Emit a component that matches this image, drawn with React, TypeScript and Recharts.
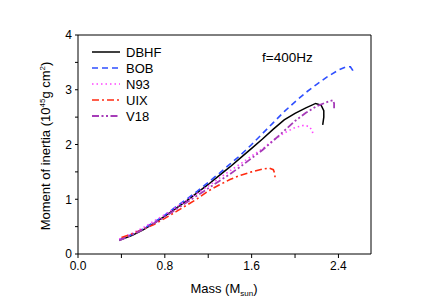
import { LineChart, Line, XAxis, YAxis, ReferenceLine } from "recharts";

// masses (M_sun) and moments of inertia (10^45 g cm^2)
const dbhfMass = [0.38, 0.5, 0.6, 0.7, 0.8, 0.9, 1.0, 1.1, 1.2, 1.3, 1.4, 1.5, 1.6, 1.7, 1.8, 1.9, 2.0, 2.1, 2.19, 2.24, 2.265, 2.265, 2.255];
const dbhfI = [0.25, 0.34, 0.44, 0.56, 0.69, 0.83, 0.97, 1.12, 1.27, 1.43, 1.59, 1.76, 1.93, 2.1, 2.28, 2.45, 2.57, 2.67, 2.75, 2.72, 2.62, 2.5, 2.36];

const bobMass = [0.38, 0.5, 0.6, 0.7, 0.8, 0.9, 1.0, 1.1, 1.2, 1.3, 1.4, 1.5, 1.6, 1.7, 1.8, 1.9, 2.0, 2.1, 2.2, 2.3, 2.4, 2.47, 2.51, 2.53, 2.535];
const bobI = [0.26, 0.36, 0.46, 0.58, 0.71, 0.86, 1.0, 1.15, 1.31, 1.47, 1.64, 1.81, 2.0, 2.2, 2.4, 2.6, 2.78, 2.95, 3.1, 3.24, 3.36, 3.42, 3.42, 3.36, 3.28];

const n93Mass = [0.38, 0.5, 0.6, 0.7, 0.8, 0.9, 1.0, 1.1, 1.2, 1.3, 1.4, 1.5, 1.6, 1.7, 1.8, 1.9, 2.0, 2.08, 2.13, 2.16, 2.165];
const n93I = [0.27, 0.38, 0.48, 0.6, 0.72, 0.85, 0.98, 1.11, 1.24, 1.38, 1.52, 1.65, 1.79, 1.92, 2.08, 2.21, 2.31, 2.35, 2.33, 2.25, 2.17];

const uixMass = [0.4, 0.5, 0.6, 0.7, 0.8, 0.9, 1.0, 1.1, 1.2, 1.3, 1.4, 1.5, 1.6, 1.7, 1.76, 1.8, 1.815, 1.815];
const uixI = [0.3, 0.37, 0.45, 0.54, 0.65, 0.77, 0.89, 1.01, 1.15, 1.26, 1.36, 1.44, 1.5, 1.55, 1.57, 1.54, 1.46, 1.4];

const v18Mass = [0.38, 0.5, 0.6, 0.7, 0.8, 0.9, 1.0, 1.1, 1.2, 1.3, 1.4, 1.5, 1.6, 1.7, 1.8, 1.9, 2.0, 2.1, 2.2, 2.3, 2.35, 2.36, 2.36];
const v18I = [0.25, 0.35, 0.45, 0.56, 0.68, 0.81, 0.94, 1.07, 1.2, 1.33, 1.46, 1.6, 1.75, 1.9, 2.07, 2.25, 2.43, 2.58, 2.7, 2.78, 2.81, 2.75, 2.66];

const xTicks = [0, 0.4, 0.8, 1.2, 1.6, 2.0, 2.4];
const yTicks = [0, 0.5, 1, 1.5, 2, 2.5, 3, 3.5, 4];
const xMax = 2.7;
const yMax = 4;

const toPoints = (mass: number[], inertia: number[]) =>
  mass.map((m, i) => ({ m, v: inertia[i] }));

const series = [
  { name: "DBHF", data: toPoints(dbhfMass, dbhfI), color: "#000000", dash: undefined, width: 1.5 },
  { name: "BOB", data: toPoints(bobMass, bobI), color: "#2f4fff", dash: "6 4", width: 1.6 },
  { name: "N93", data: toPoints(n93Mass, n93I), color: "#ff44ff", dash: "1.5 3", width: 1.6 },
  { name: "UIX", data: toPoints(uixMass, uixI), color: "#ff2a10", dash: "7 3 2 3", width: 1.6 },
  { name: "V18", data: toPoints(v18Mass, v18I), color: "#a63cb8", dash: "7 2.5 2 2.5 2 2.5", width: 1.8 },
];

const font = "'Liberation Sans', Arial, sans-serif";
const tickStyle = { fill: "#000", fontSize: 12, fontFamily: font };

export default function App() {
  return (
    <div style={{ position: "absolute", left: 0, top: 0, width: 431, height: 305, background: "#fff" }}>
      <LineChart width={431} height={305} margin={{ top: 35, right: 60, bottom: 0, left: 28 }}>
        <XAxis
          type="number"
          dataKey="m"
          domain={[0, xMax]}
          ticks={xTicks}
          tickFormatter={(v: number) => (Math.round(v * 10) % 8 === 0 ? v.toFixed(1) : "")}
          height={51}
          stroke="#000"
          tickSize={4}
          tickMargin={3}
          tick={tickStyle}
          allowDataOverflow
        />
        <YAxis
          type="number"
          dataKey="v"
          domain={[0, yMax]}
          ticks={yTicks}
          tickFormatter={(v: number) => (v % 1 === 0 ? String(v) : "")}
          width={50}
          stroke="#000"
          tickSize={3}
          tickMargin={3}
          tick={tickStyle}
          allowDataOverflow
        />
        {/* frame: top and right edges of the plot box */}
        <ReferenceLine y={yMax} stroke="#000" strokeWidth={1} ifOverflow="visible" />
        <ReferenceLine x={xMax} stroke="#000" strokeWidth={1} ifOverflow="visible" />
        {series.map((s) => (
          <Line
            key={s.name}
            data={s.data}
            dataKey="v"
            type="linear"
            stroke={s.color}
            strokeWidth={s.width}
            strokeDasharray={s.dash}
            dot={false}
            activeDot={false}
            isAnimationActive={false}
          />
        ))}
      </LineChart>
      <svg width={431} height={305} style={{ position: "absolute", left: 0, top: 0, pointerEvents: "none" }} fontFamily={font}>
        {series.map((s, i) => (
          <g key={s.name}>
            <line x1={92} x2={120} y1={52 + i * 16} y2={52 + i * 16} stroke={s.color} strokeWidth={s.width} strokeDasharray={s.dash} />
            <text x={126} y={52 + i * 16} dy="0.36em" fontSize={13} fill="#000">{s.name}</text>
          </g>
        ))}
        <text x={262} y={57} dy="0.36em" fontSize={13.5} fill="#000">f=400Hz</text>
        <text x={224} y={293} textAnchor="middle" fontSize={13} fill="#000">
          Mass (M<tspan fontSize={8} dy={3}>sun</tspan><tspan dy={-3}>)</tspan>
        </text>
        <text transform="translate(50,146) rotate(-90)" textAnchor="middle" fontSize={13} fill="#000">
          Moment of inertia (10<tspan fontSize={8} dy={-5}>45</tspan><tspan dy={5}>g cm</tspan><tspan fontSize={8} dy={-5}>2</tspan><tspan dy={5}>)</tspan>
        </text>
      </svg>
    </div>
  );
}
